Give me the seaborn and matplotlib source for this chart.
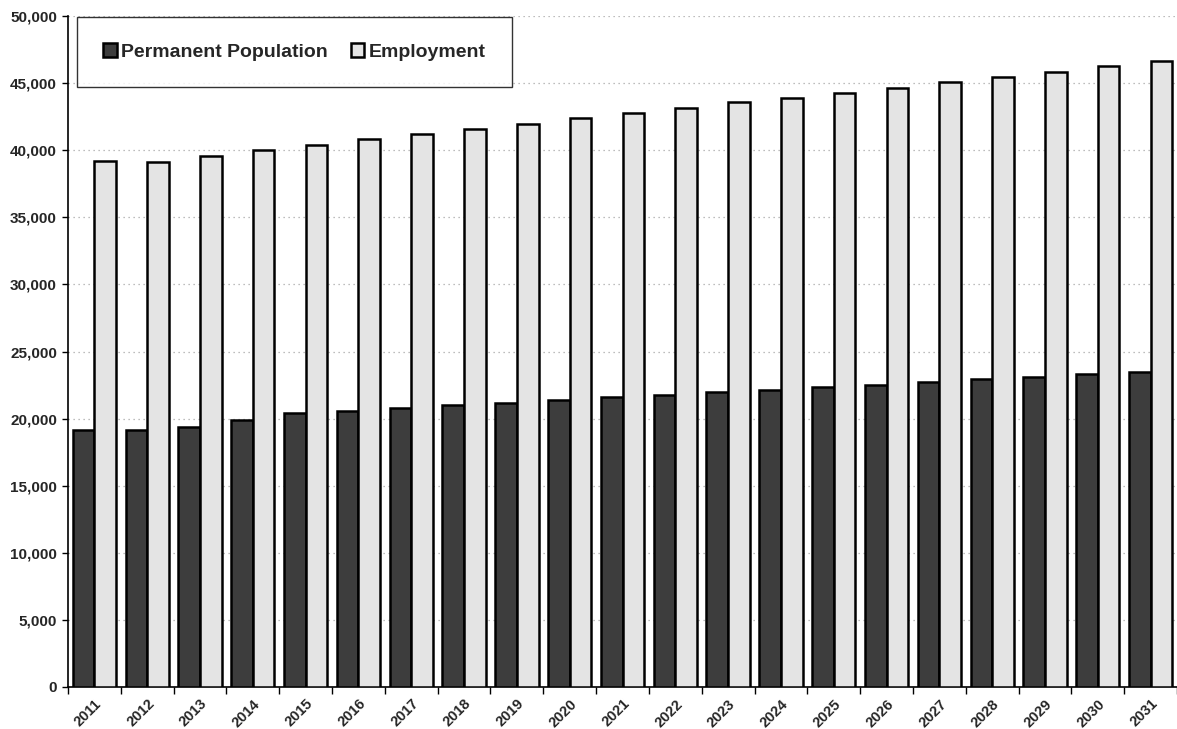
import matplotlib
matplotlib.use("Agg")
import matplotlib.pyplot as plt
import seaborn as sns
import pandas as pd
import numpy as np
from matplotlib.ticker import FuncFormatter, MultipleLocator

years = [str(y) for y in range(2011, 2032)]
population = [19180, 19130, 19350, 19870, 20400, 20570, 20790, 20990, 21160, 21360,
              21590, 21760, 21960, 22160, 22360, 22530, 22710, 22960, 23100, 23330, 23500]
employment = [39200, 39150, 39590, 40050, 40420, 40850, 41200, 41600, 41980, 42370,
              42800, 43170, 43560, 43900, 44280, 44650, 45050, 45420, 45850, 46240, 46610]
series_names = ["Permanent Population", "Employment"]

df = pd.DataFrame({
    "Year": years * 2,
    "Value": population + employment,
    "Series": [series_names[0]] * len(years) + [series_names[1]] * len(years),
})

sns.set_theme(style="white")
plt.rcParams["font.family"] = ["Liberation Sans", "DejaVu Sans"]

fig = plt.figure(figsize=(11.77, 7.29), dpi=100)
ax = fig.add_axes([68 / 1177, 1 - 687 / 729, 1 - 68 / 1177, (687 - 16) / 729])

palette = {series_names[0]: "#3d3d3d", series_names[1]: "#e4e4e4"}
sns.barplot(data=df, x="Year", y="Value", hue="Series", order=years,
            hue_order=series_names, palette=palette, width=0.82,
            edgecolor="black", linewidth=1.8, saturation=1, ax=ax, zorder=3)

ax.set_ylim(0, 50000)
ax.set_xlim(-0.5, len(years) - 0.5)
ax.yaxis.set_major_locator(MultipleLocator(5000))
ax.yaxis.set_major_formatter(FuncFormatter(lambda v, p: f"{int(v):,}"))
ax.grid(axis="y", color="#a8a8a8", linestyle=(0, (1, 3)), linewidth=0.9, zorder=0)
ax.set_axisbelow(True)

for s in ["top", "right"]:
    ax.spines[s].set_visible(False)
for s in ["left", "bottom"]:
    ax.spines[s].set_color("black")
    ax.spines[s].set_linewidth(1.2)

ax.set_xlabel("")
ax.set_ylabel("")
ax.tick_params(axis="y", which="major", left=True, length=4, width=1, color="black",
               labelsize=11, pad=4)
for lbl in ax.get_yticklabels():
    lbl.set_fontweight("bold")

# category ticks at boundaries
ax.set_xticks(np.arange(-0.5, len(years), 1.0), minor=True)
ax.tick_params(axis="x", which="minor", bottom=True, length=5, width=1, color="black")
ax.tick_params(axis="x", which="major", bottom=False, labelsize=10.5, pad=1)
ax.set_xticks(range(len(years)))
ax.set_xticklabels(years, rotation=45, ha="right", rotation_mode="anchor", fontweight="bold")

leg = ax.legend(loc="upper left", bbox_to_anchor=(8 / 1109, 1.0), ncol=2, frameon=True,
                fancybox=False, edgecolor="black", prop={"weight": "bold", "size": 14},
                handlelength=0.7, handleheight=0.7, handletextpad=0.2, columnspacing=1.2,
                borderpad=1.35, borderaxespad=0.05)
leg.get_frame().set_linewidth(1.0)
leg.set_title(None)

fig.savefig("out.png", dpi=100, facecolor="white")
